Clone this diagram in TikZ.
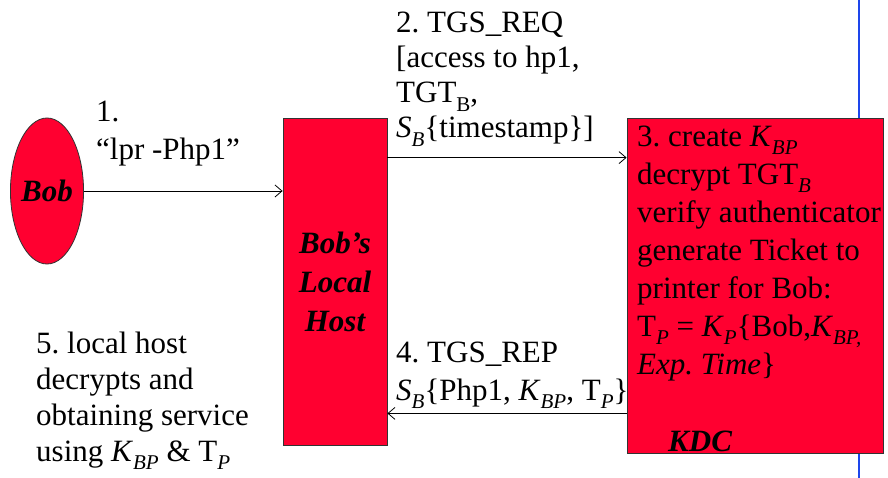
\documentclass[tikz,border=0pt]{standalone}
\usepackage{fontspec}
\setmainfont{Liberation Serif}
\usetikzlibrary{shapes.geometric}
\usetikzlibrary{arrows.meta}
\usetikzlibrary{positioning}
\newcommand{\sbs}[1]{\raisebox{-0.26em}{\fontsize{21}{21}\selectfont #1}}
\definecolor{boxred}{RGB}{255,0,48}
\definecolor{edgeblue}{RGB}{30,70,235}
\frenchspacing

\begin{document}
\begin{tikzpicture}[x=1pt, y=-1pt,
    every node/.style={font=\fontsize{31}{36}\selectfont, inner sep=0pt},
    redbox/.style={draw=black!80, fill=boxred, line width=0.8pt},
    lbl/.style={anchor=base west, align=left},
    msg/.style={-{Straight Barb[length=7pt,width=12pt]}, line width=0.8pt}]

    \useasboundingbox (0,0) rectangle (888,478);
    \draw[edgeblue, line width=2.5pt] (859,0) -- (859,478);

    % message labels (placed by the baseline of their last line)
    \node(step1)[lbl, font=\fontsize{31}{38}\selectfont] at (96,160) {1.\\“lpr -Php1”};
    \node(step2)[lbl, font=\fontsize{31}{35}\selectfont] at (396,138) {2. TGS\_REQ\\{[}access to hp1,\\TGT\sbs{B},\\\textit{S}\sbs{\textit{B}}\{timestamp\}]};
    \node(step4)[lbl, font=\fontsize{31}{38}\selectfont] at (396,400) {4. TGS\_REP\\\textit{S}\sbs{\textit{B}}\{Php1, \textit{K}\sbs{\textit{BP}}, T\sbs{\textit{P}}\}};
    \node(step5)[lbl] at (36,461) {5. local host\\decrypts and\\obtaining service\\using \textit{K}\sbs{\textit{BP}} \& T\sbs{\textit{P}}};

    % parties
    \node(bob)[redbox, ellipse, minimum width=72pt, minimum height=146pt] at (47,191) {\textbf{\textit{Bob}}};
    \node(host)[redbox, minimum width=104pt, minimum height=327pt, align=center,
        font=\fontsize{31}{39}\selectfont\bfseries\itshape] at (335,281.5) {Bob’s\\Local\\Host};
    \node(kdc)[redbox, minimum width=256pt, minimum height=335pt] at (755,285.5) {};
    \node(kdctext)[lbl, font=\fontsize{31}{38}\selectfont] at (637,374) {3. create \textit{K}\sbs{\textit{BP}}\\decrypt TGT\sbs{\textit{B}}\\verify authenticator\\generate Ticket to\\printer for Bob:\\T\sbs{\textit{P}} = \textit{K}\sbs{\textit{P}}\{Bob,\textit{K}\sbs{\textit{BP,}}\\\textit{Exp. Time}\}};
    \node(kdcname)[lbl, font=\fontsize{31}{36}\selectfont\bfseries\itshape] at (668,451) {KDC};

    % messages
    \coordinate(rep) at ([yshift=40pt]kdc.south west);
    \draw[msg] (bob.east) -- (host.west |- bob.east);
    \draw[msg] ([yshift=-40pt]host.north east) -- ([yshift=-40pt]kdc.north west);
    \draw[msg] (rep) -- (host.east |- rep);

\end{tikzpicture}
\end{document}
